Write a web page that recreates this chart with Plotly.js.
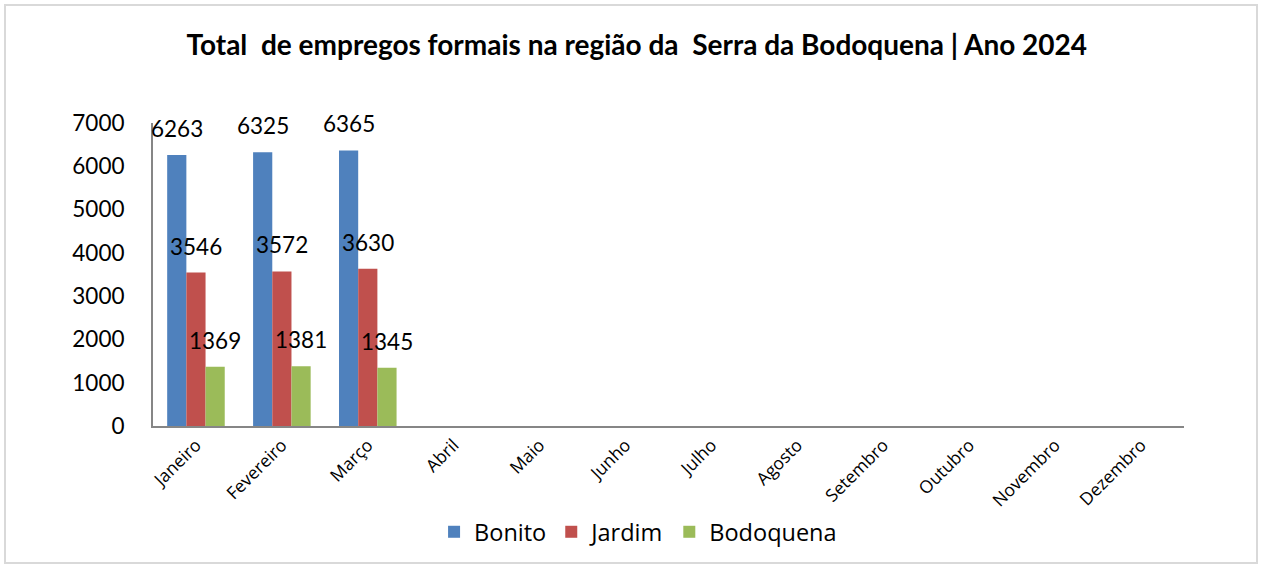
<!DOCTYPE html>
<html><head><meta charset="utf-8">
<script src="https://cdn.plot.ly/plotly-3.0.1.min.js"></script>
<style>
html,body{margin:0;padding:0;background:#fff;}
#wrap{position:absolute;left:0;top:0;width:1266px;height:568px;overflow:hidden;}
#frame{position:absolute;left:4px;top:4px;width:1254px;height:560px;border:2px solid #d9d9d9;box-sizing:border-box;}
#chart{position:absolute;left:0;top:0;width:1266px;height:568px;}
</style></head>
<body><div id="wrap"><div id="frame"></div><div id="chart"></div></div>
<script>
const months = ["Janeiro","Fevereiro","Março","Abril","Maio","Junho","Julho","Agosto","Setembro","Outubro","Novembro","Dezembro"];
const bonito = [6263, 6325, 6365, null, null, null, null, null, null, null, null, null];
const jardim = [3546, 3572, 3630, null, null, null, null, null, null, null, null, null];
const bodoquena = [1369, 1381, 1345, null, null, null, null, null, null, null, null, null];
const seriesNames = ["Bonito","Jardim","Bodoquena"];
const seriesColors = ["#4F81BD","#C0504D","#9BBB59"];
const seriesData = [bonito, jardim, bodoquena];

const font = "Lato, 'Open Sans', sans-serif";
const font2 = "'Open Sans', sans-serif";
const traces = seriesData.map((d,i)=>({
  type:'bar', name:seriesNames[i], x:months, y:d,
  marker:{color:seriesColors[i]}, hoverinfo:'x+y+name'
}));

const annotations = [];
const shifts = [-19, 0, 19];
seriesData.forEach((d,i)=>{
  d.forEach((v,j)=>{
    if(v==null) return;
    annotations.push({x:months[j], y:v, xref:'x', yref:'y', text:String(v), showarrow:false,
      xshift:shifts[i], yanchor:'bottom', yshift:11, font:{family:font,size:22.5,color:'#000'}});
  });
});

const layout = {
  width:1266, height:568,
  paper_bgcolor:'rgba(0,0,0,0)', plot_bgcolor:'rgba(0,0,0,0)',
  margin:{l:153, r:82, t:123, b:142},
  title:{text:'<b>Total  de empregos formais na região da  Serra da Bodoquena | Ano 2024</b>',
    font:{family:font,size:28,color:'#000'}, x:0.503, xref:'container', xanchor:'center', y:1-45/568, yref:'container', yanchor:'middle'},
  barmode:'group', bargap:0.33, bargroupgap:0,
  xaxis:{type:'category', categoryorder:'array', categoryarray:months, range:[-0.5,11.5],
    showline:true, linecolor:'#868686', linewidth:2, showgrid:false, zeroline:false,
    ticks:'', tickangle:-45, tickfont:{family:font2,size:17.5,color:'#000'}, fixedrange:true},
  yaxis:{range:[0,7000], dtick:1000, showline:true, linecolor:'#868686', linewidth:2,
    showgrid:false, zeroline:false, ticks:'', ticklabelstandoff:22,
    tickfont:{family:font,size:22.5,color:'#000'}, fixedrange:true},
  showlegend:true,
  legend:{orientation:'h', xref:'container', yref:'container', x:0.504, xanchor:'center', y:1-532/568, yanchor:'middle',
    font:{family:font2,size:23.5,color:'#000'}, itemsizing:'constant', traceorder:'normal', itemwidth:30},
  annotations:annotations
};
Plotly.newPlot('chart', traces, layout, {displayModeBar:false, staticPlot:true});
</script></body></html>
